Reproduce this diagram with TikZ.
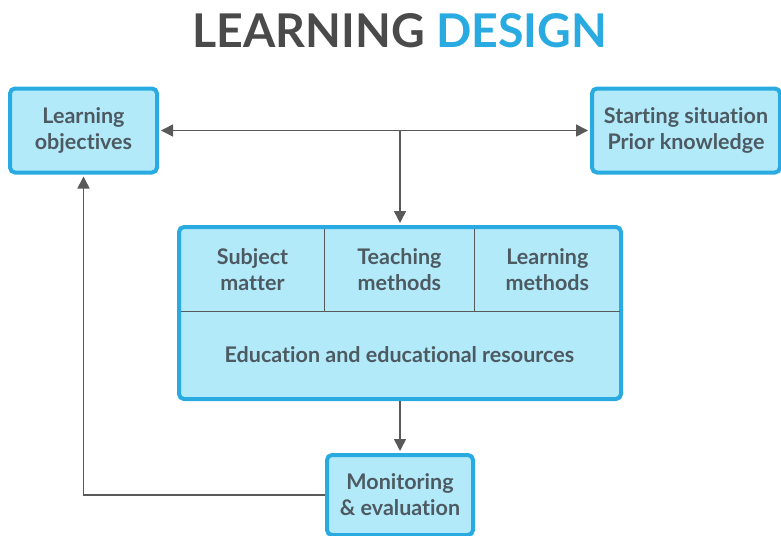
\documentclass[tikz,border=0pt]{standalone}
\usepackage{fontspec}
\setmainfont{Lato}[Ligatures={NoCommon,NoRare}]
\usetikzlibrary{arrows.meta,positioning,calc}
\definecolor{ldBlue}{HTML}{29ABE2}
\definecolor{ldFill}{HTML}{B3EAFA}
\definecolor{ldText}{HTML}{4D5A61}
\definecolor{ldTitle}{HTML}{4A4A4A}
\definecolor{ldLine}{HTML}{595959}

\begin{document}
\begin{tikzpicture}[
x=1pt, y=-1pt,
every node/.style={font=\fontsize{21.5}{26}\selectfont\bfseries, text=ldText},
box/.style={draw=ldBlue, line width=4pt, fill=ldFill, rounded corners=5pt, align=center, inner sep=0pt},
cell/.style={align=center, inner sep=0pt},
arr/.style={-{Triangle[length=12pt,width=12pt]}, line width=1.6pt, draw=ldLine, shorten >=2pt},
darr/.style={{Triangle[length=12pt,width=12pt]}-{Triangle[length=12pt,width=12pt]}, line width=1.6pt, draw=ldLine, shorten >=2pt, shorten <=2pt},
sep/.style={draw=ldLine, line width=1.2pt}
]
\useasboundingbox (0,0) rectangle (781,535);

% Title
\node[font=\fontsize{46.5}{46.5}\selectfont\bfseries] (title) at (400,31) {\textcolor{ldTitle}{LEARNING} \textcolor{ldBlue}{DESIGN}};

% Top row
\node[box, minimum width=147pt, minimum height=84pt] (obj) at (83.5,130.5) {Learning\\objectives};
\node[box, minimum width=188pt, minimum height=84pt] (start) at (686,130.5) {Starting situation\\Prior knowledge};

% Central block
\node[box, minimum width=442pt, minimum height=172pt] (core) at (400,313) {};
\node[cell, minimum width=143pt, minimum height=82pt] (subj) at (252.5,270) {Subject\\matter};
\node[cell, minimum width=150pt, minimum height=82pt, right=0pt of subj] (teach) {Teaching\\methods};
\node[cell, minimum width=145pt, minimum height=82pt, right=0pt of teach] (learn) {Learning\\methods};
\node[cell, minimum width=438pt, minimum height=86pt, below=0pt of teach] (edu) {Education and educational resources};
\draw[sep] (subj.north east) -- (subj.south east);
\draw[sep] (teach.north east) -- (teach.south east);
\draw[sep] (subj.south west) -- (learn.south east);

% Bottom
\node[box, minimum width=146pt, minimum height=80pt] (mon) at (400,495) {Monitoring\\\& evaluation};

% Connectors
\coordinate (hub) at (core.north |- obj.east);
\draw[darr] (obj) -- (start);
\draw[arr] (hub) -- (core);
\draw[arr] (core) -- (mon);
\draw[arr] (mon.west) -| (obj.south);

\end{tikzpicture}
\end{document}
